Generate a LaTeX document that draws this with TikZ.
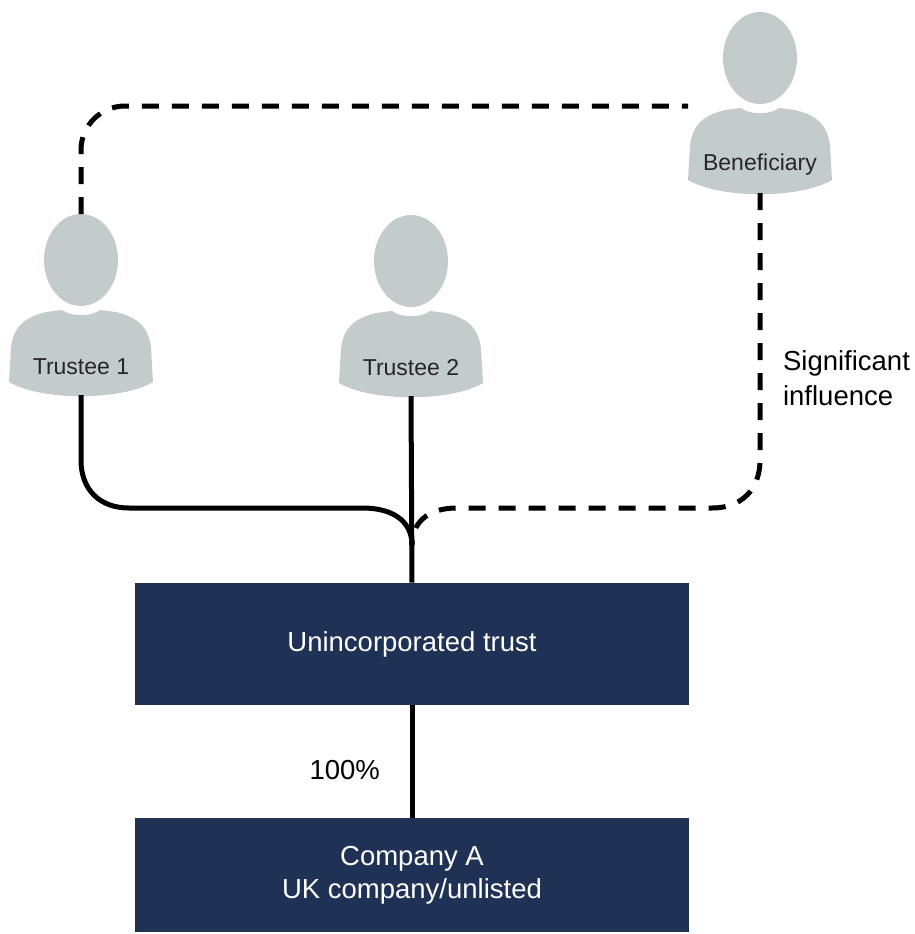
\documentclass[tikz,border=0pt]{standalone}
\usepackage{fontspec}
\setmainfont{Liberation Sans}
\usetikzlibrary{positioning}

\definecolor{personfill}{RGB}{195,203,205}
\definecolor{trustblue}{RGB}{31,49,84}

\tikzset{
	link/.style={line width=2.5pt},
	influence/.style={line width=2.5pt, dash pattern=on 8.5pt off 6.5pt},
	entity/.style={fill=trustblue, text=white, minimum width=277pt, align=center,
		font=\fontsize{13.75}{16.5}\selectfont},
	persontext/.style={text=black!85, font=\fontsize{11.5}{13}\selectfont},
	person/.pic={
		\fill[personfill] (0,-48) ellipse [x radius=37, y radius=46];
		\fill[personfill] (-19,2) .. controls (-10,9) and (10,9) .. (19,2)
			-- (35,4) .. controls (60,10) and (68,22) .. (70,40)
			-- (72,74) .. controls (40,93) and (-40,93) .. (-72,74)
			-- (-70,40) .. controls (-68,22) and (-60,10) .. (-35,4) -- cycle;
		\node[persontext] (-label) at (0,59) {#1};
		\coordinate (-top) at (0,-94);
		\coordinate (-bottom) at (0,87);
		\coordinate (-west) at (-72,0);
	}
}

\begin{document}
\begin{tikzpicture}[x=0.5pt, y=-0.5pt]
		\useasboundingbox (0,0) rectangle (915,934);
		\pic (t1) at (81,308) {person={Trustee 1}};
		\pic (t2) at (411,309) {person={Trustee 2}};
		\pic (ben) at (760,106) {person={Beneficiary}};
		\node[entity, minimum height=61pt] (trust) at (412,644) {Unincorporated trust};
		\node[entity, minimum height=57pt] (company) at (412,875) {Company A\\UK company/unlisted};
		\coordinate (join) at (412,545);
		\draw[influence, rounded corners=22pt] (t1-top) |- (ben-west);
		\draw[influence] (ben-bottom) -- (760,460) .. controls (760,490) and (741,508) .. (712,508)
			-- (457,508) .. controls (425,508) and (412,525) .. (join);
		\draw[link] (t1-bottom) -- (81,460) .. controls (81,490) and (100,508) .. (129,508)
			-- (362,508) .. controls (398,508) and (412,525) .. (join);
		\draw[link] (t2-bottom) -- (trust.north);
		\draw[link] (trust.south) -- (company.north) node[midway, left=11.5pt, yshift=-4.5pt, font=\fontsize{13.75}{16.5}\selectfont] {100\%};
		\node[right, align=left, font=\fontsize{13.75}{17.5}\selectfont] (infl) at (776,378) {Significant\\influence};
	\end{tikzpicture}
\end{document}
